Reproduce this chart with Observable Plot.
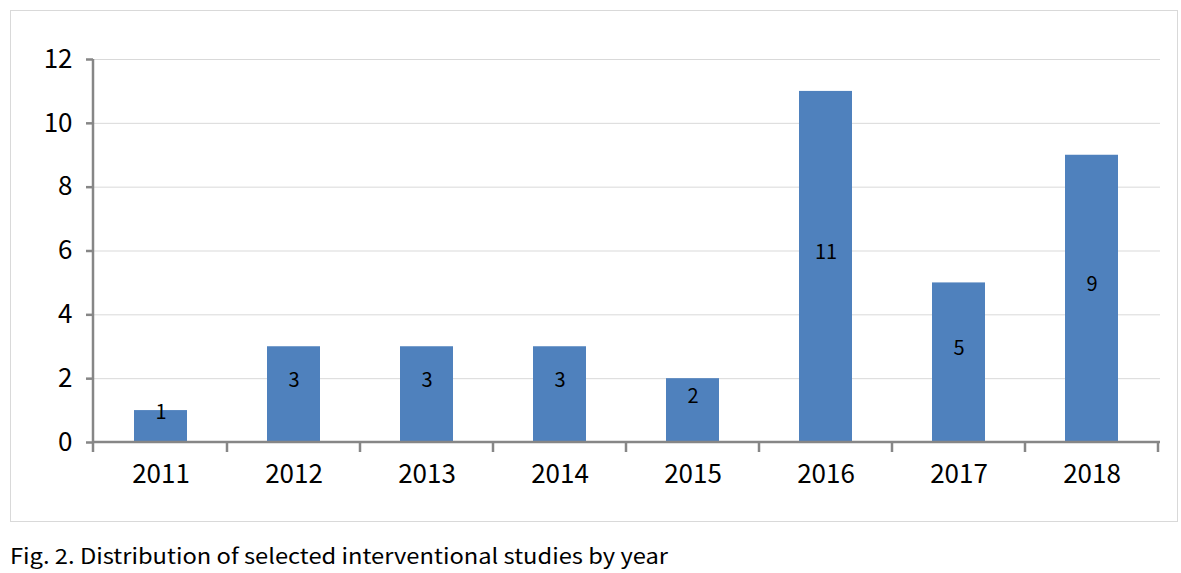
<!DOCTYPE html>
<html>
<head>
<meta charset="utf-8">
<script src="https://cdn.jsdelivr.net/npm/d3@7"></script>
<script src="https://cdn.jsdelivr.net/npm/@observablehq/plot@0.6"></script>
<style>
  html, body { margin: 0; padding: 0; background: #fff; }
  #wrap { position: relative; width: 1181px; height: 573px; }
  #border { position: absolute; left: 10px; top: 10px; width: 1168px; height: 512px; box-sizing: border-box; border: 1px solid #d9d9d9; pointer-events: none; }
  #chart { position: absolute; left: 0; top: 0; }
  #caption { position: absolute; left: 10px; top: 540px; font-family: "Noto Sans CJK KR", "Noto Sans", sans-serif; font-size: 21px; color: #000; white-space: nowrap; transform-origin: left center; }
</style>
</head>
<body>
<div id="wrap">
  <div id="chart"></div>
  <div id="border"></div>
  <div id="caption"></div>
</div>
<script>
const years = ["2011", "2012", "2013", "2014", "2015", "2016", "2017", "2018"];
const counts = [1, 3, 3, 3, 2, 11, 5, 9];
const yTicks = [0, 2, 4, 6, 8, 10, 12];
const captionText = "Fig. 2. Distribution of selected interventional studies by year";

const data = years.map((y, i) => ({year: y, value: counts[i]}));
const axisColor = "#868686";

function axisLines(index, scales, values, dims) {
  const x = scales.x, y = scales.y;
  const ns = "http://www.w3.org/2000/svg";
  const g = document.createElementNS(ns, "g");
  const bw = x.bandwidth ? x.bandwidth() : 0;
  const step = x.step ? x.step() : (dims.width - dims.marginLeft - dims.marginRight) / years.length;
  const x0 = dims.marginLeft, x1 = dims.width - dims.marginRight;
  const y0 = y(0), yTop = y(12);
  const add = (a, b, c, d) => {
    const l = document.createElementNS(ns, "line");
    l.setAttribute("x1", a); l.setAttribute("y1", b);
    l.setAttribute("x2", c); l.setAttribute("y2", d);
    l.setAttribute("stroke", axisColor); l.setAttribute("stroke-width", 2.5);
    g.appendChild(l);
  };
  add(x0, yTop, x0, y0 + 10);
  add(x0, y0, x1, y0);
  years.forEach((yr, i) => {
    const b = x(yr) + bw / 2 + step / 2;
    add(b, y0, b, y0 + 10);
  });
  return g;
}

const chart = Plot.plot({
  width: 1181,
  height: 522,
  marginLeft: 93,
  marginRight: 21,
  marginTop: 59,
  marginBottom: 80,
  style: { fontFamily: "'Noto Sans CJK KR', 'Noto Sans', sans-serif", background: "transparent" },
  x: { domain: years, paddingInner: 0.6, paddingOuter: 0.3 },
  y: { domain: [0, 12] },
  marks: [
    Plot.gridY(yTicks, { stroke: "#d9d9d9", strokeOpacity: 1, strokeWidth: 1 }),
    Plot.barY(data, { x: "year", y: "value", fill: "#4f81bd" }),
    Plot.text(data, { x: "year", y: d => d.value / 2, text: d => String(d.value), fontSize: 20, fill: "#000", dy: -14 }),
    Plot.axisY(yTicks, { tickSize: 7, tickPadding: 14, stroke: axisColor, strokeWidth: 2.5, fill: "#000", fontSize: 26, label: null }),
    Plot.axisX({ tickSize: 0, tickPadding: 22, fill: "#000", fontSize: 26, label: null }),
    axisLines
  ]
});
document.getElementById("chart").appendChild(chart);
const cap = document.getElementById("caption");
cap.textContent = captionText;
const w = cap.getBoundingClientRect().width;
if (w > 0) cap.style.transform = `scaleX(${658 / w})`;
</script>
</body>
</html>
